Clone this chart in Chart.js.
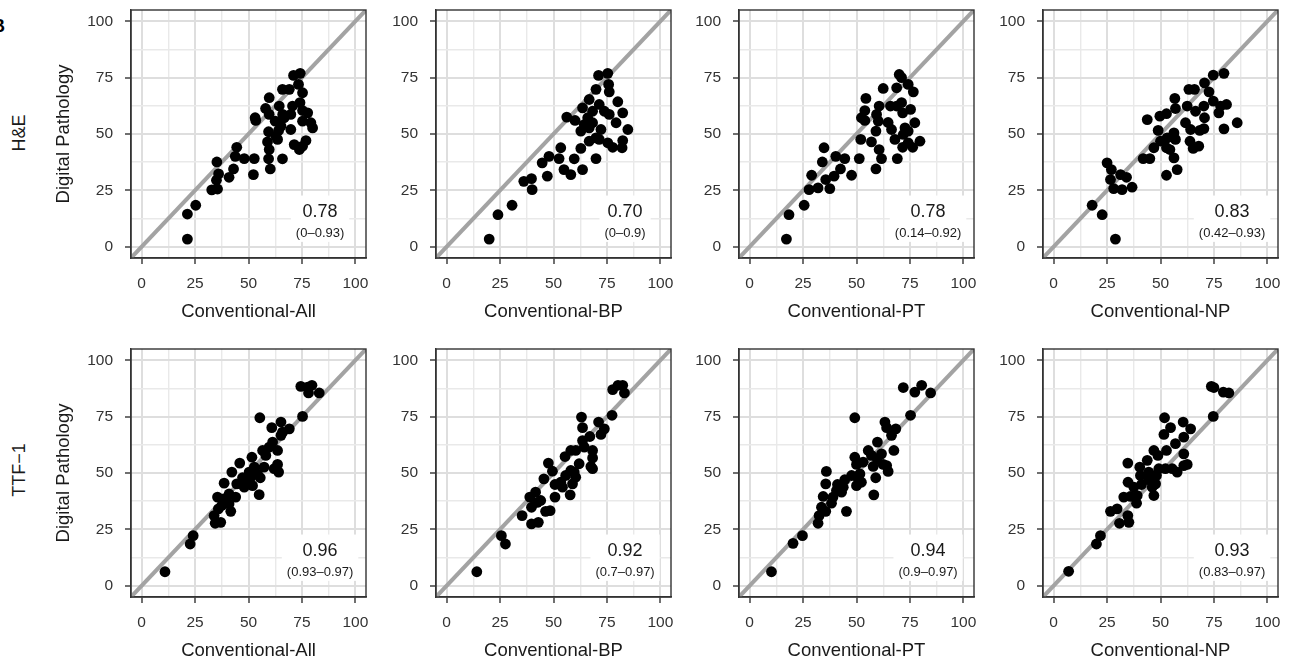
<!DOCTYPE html>
<html>
<head>
<meta charset="utf-8">
<script src="https://cdn.jsdelivr.net/npm/chart.js@4.4.1/dist/chart.umd.min.js"></script>
<style>
body { margin: 0; background: #fff; width: 1293px; height: 661px; overflow: hidden; position: relative; font-family: 'Liberation Sans', Arial, sans-serif; }
.panel { position: absolute; }
.panel canvas { display: block; }
.rowlab { position: absolute; font-size: 18px; color: #1a1a1a; white-space: nowrap; transform: translate(-50%, -50%) rotate(-90deg); }
.tag { position: absolute; left: -8px; top: 17px; font-size: 18px; line-height: 18px; font-weight: bold; color: #000; }
</style>
</head>
<body>
<div class="tag">B</div>
<div class="rowlab" style="left:19px; top:133px;">H&amp;E</div>
<div class="rowlab" style="left:19px; top:470px;">TTF−1</div>
<script>
const FONT = "'Liberation Sans', Arial, sans-serif";
const TEXT_COLOR = '#1a1a1a';
const TICK_COLOR = '#333333';
const GRID_MAJOR = '#dedede';
const GRID_MINOR = '#e9e9e9';
const FRAME_COLOR = '#333333';
const IDENTITY_COLOR = '#a3a3a3';

const METHODS = ['Conventional-All', 'Conventional-BP', 'Conventional-PT', 'Conventional-NP'];
const GRID_VALUES = [0, 12.5, 25, 37.5, 50, 62.5, 75, 87.5, 100];
const AXIS_RANGE = [-5, 105];

// H&E row
const heAllX = [21.4,21.4,25.3,32.8,35.5,35,36,35.2,40.9,43,44.5,43.8,48,52.7,52.3,53.1,53.4,58,59.7,59.7,59.4,58.9,59.7,59.4,60.2,64.4,62.5,64.1,63.6,65.9,65.9,69.1,66.7,69.8,70.6,69.8,71.4,73.8,71.1,74.2,73.4,75.3,74.1,75.3,77.7,75.3,79.2,80,76.9,75.3,65.2,62.8,66];
const heAllY = [3.4,14.5,18.4,25.2,25.6,29.5,32.3,37.6,30.8,34.5,44.1,40.1,39.1,39.1,32,57.2,56,61.3,66.1,58.7,51,46.5,43.1,39,34.5,62.4,55.7,51.6,47.6,39,69.8,69.8,57.2,58.7,62.4,52,45.3,43.1,76,76.9,72,68.3,63.9,60.4,59.4,55.7,55,52.7,47.1,44.6,53.5,49,58.7];

const heBpX = [19.9,24,30.6,36.1,39.7,40,47.1,44.7,47.9,53.4,52.6,54.9,58.1,59.7,63.6,62.8,56.2,60.1,62.8,63.6,66.7,66,66.7,66.7,68.3,69.9,69.9,71.4,72.2,71.4,69.9,71.1,75.4,75.8,76.1,76.1,75.4,77.7,79.3,80.1,82.4,82.4,82.1,84.8,64.4,68.3,73.8];
const heBpY = [3.4,14.2,18.4,29,30.2,25.3,31.3,37.2,40.1,43.9,39.1,34.2,32,39,34.2,43.6,57.5,56,51.3,61.6,65.3,57.2,52.7,46.8,60.1,48.3,39.1,63.1,52,47.6,69.8,76,76.9,72,68.7,58.7,46.1,44.1,55,64.3,59.4,47.1,43.9,52,54.2,55,60.1];

const hePtX = [17.2,18.4,25.5,27.8,32,29,35.6,37.5,39.5,42.5,47.7,34,34.8,40.3,44.5,51.3,52,57,59.1,61.7,60.6,52.3,53.9,54.4,53.9,59.4,60.6,59.1,60.2,62.5,64.8,65.9,66.4,68,69.1,68.8,70,71.1,68.8,71.1,71.6,74.2,76.6,75.3,72.7,74.2,77.3,71.6,74.2,76.3,79.7,71.9];
const hePtY = [3.4,14.2,18.4,25.3,26.1,31.7,29.8,25.8,31.3,34.5,31.7,37.6,43.9,40.1,39.1,39.1,47.6,46.5,34.5,39.1,43.1,57.2,60.4,65.8,56,58.7,62.4,51.3,55.7,70.2,55.1,62.4,52,47.6,39.1,70.5,76.4,75,62.4,63.9,59.4,72,68.7,60.9,52.7,51.3,55,44.1,46.1,44.1,46.8,49.8];

const heNpX = [28.9,18,22.7,25,27,26.6,28.1,31.3,32,34.1,36.7,41.9,45,43.8,46.9,48.9,49.7,52.8,52.8,50,53.1,52.8,54.4,56.3,57.8,56.7,57,56.3,57,62.5,61.7,63.3,65.9,64.1,63.8,65.3,67.9,66.4,70.3,70.6,70.3,68.4,70.6,72.7,74.7,79.7,74.7,77.3,78.1,80.9,79.7,85.9];
const heNpY = [3.4,18.4,14.2,37.2,34.2,29.8,25.8,32,25.3,30.8,26.4,39.1,39.1,56.4,43.9,51.6,57.9,59,31.7,46.8,48.3,43.9,43.1,39.4,34.2,65.8,61.3,50.5,47.6,62.4,55,69.8,69.8,52,46.8,43.6,44.6,60.1,62.4,57.2,52.4,51.6,72.7,68.7,76.1,76.9,64.6,59.4,62.4,63.1,52.3,55];

// TTF-1 row
const ttfAllX = [10.9,22.7,24.1,34.4,37,33.9,35.9,41.7,35.5,38.3,38.6,40.9,44,42.2,45.9,44.5,47.2,49.5,51.6,52.7,51.1,51.9,55,55.5,55.3,57.3,56.6,58.1,59.7,61.3,63.6,63.6,62,64.1,60.9,65.2,65.2,69.1,65.9,75.3,74.5,77.7,79.7,78.1,83.1,48,50.3,54.2,37.5,40.9];
const ttfAllY = [6.2,18.5,22.2,27.7,28.1,31.1,34.1,33,39.3,38.5,45.5,40.7,39.3,50.4,54.4,45.2,47.9,45.9,57,52.6,48.1,44.4,40.4,47.9,74.5,52.6,60,57.8,61.5,63.7,60,53.8,51.9,50.4,70.1,72.6,66.7,69.6,68.1,75.1,88.4,88.1,88.9,85.5,85.5,43.7,50.4,49.6,35.6,36.3];

const ttfBpX = [14.1,25.6,27.5,35.3,39.7,42.9,38.9,39.7,41.6,44,42.4,46.3,48.4,45.5,47.6,49.5,50.7,50.7,53.4,55.7,55.4,58.1,58.1,57.8,58.9,60.4,60.4,62,63.6,63.6,63.1,67,68.3,68.3,67.5,68.3,71.1,72.2,73.8,77.4,77.7,80.2,82.4,83.2,54.2,59.7,64.4];
const ttfBpY = [6.2,22.2,18.5,31.1,27.4,28.1,39.3,34.8,41.5,37.8,37,33,33.3,47.4,54.4,50.8,44.9,39.3,45.9,48.9,57.3,60,51.1,40.3,45.2,60,48.1,54.1,64.4,70.1,74.8,66.2,60,56.7,52.9,51.9,72.6,67.1,69.6,75.6,87,88.9,88.9,85.5,43.7,50.4,61.5];

const ttfPtX = [10.2,20.3,24.7,32,32.5,33.6,35.6,34.4,35.6,35.9,38.3,39,40.6,41.1,43,45.3,44.5,47.7,49.2,49.2,50,50,51.6,52.3,53.1,55.5,57,57.8,59,58.1,59.8,61.7,62.5,64.1,64.8,63.3,64.1,66.4,68.4,67.5,71.9,75.3,77.3,80.5,84.7,43.8,50.8,59.7];
const ttfPtY = [6.2,18.8,22.2,27.7,31.1,34.8,33,39.6,45.2,50.7,36.6,39.3,42.2,44.9,41.5,33,47,48.9,74.5,57,53.8,44.4,49.6,45.9,54.8,60,57.8,52.9,47.9,40.3,63.7,58.5,53.8,53.3,50.7,72.6,70.1,66.7,69.6,60,87.9,75.6,85.9,88.9,85.5,43.7,47.4,56.3];

const ttfNpX = [7,20,21.9,26.6,29.7,30.8,35.2,34.7,32.8,34.8,35.9,38.8,39.1,34.7,40.3,40.6,41.1,43.8,44.5,46.1,46.9,46.9,48.8,48.1,49.2,52.3,52.8,51.9,51.6,54.7,57,55.5,57.8,60.9,60.9,62.5,60.9,60.6,64.1,74.7,73.8,75,79.4,82,44.5,47.7,37.5];
const ttfNpY = [6.4,18.5,22.2,33,34.1,27.7,28.1,31.1,39.3,45.9,39.6,36.6,40,54.4,52.6,48.9,44.9,55.6,47,43.7,40,60,57.8,48.9,51.9,51.9,60,74.5,67.1,70.1,63,51.9,50.4,58.5,53.3,53.8,65.9,72.6,69.6,75.1,88.4,87.9,85.9,85.5,50.4,45.2,43.7];

const ICC_VALUES = ['0.78', '0.70', '0.78', '0.83', '0.96', '0.92', '0.94', '0.93'];
const ICC_RANGES = ['(0–0.93)', '(0–0.9)', '(0.14–0.92)', '(0.42–0.93)', '(0.93–0.97)', '(0.7–0.97)', '(0.9–0.97)', '(0.83–0.97)'];
const LABEL_POS = { x: 83.5, yMain: 15.6, ySub: 5.7 };

const SERIES_X = [heAllX, heBpX, hePtX, heNpX, ttfAllX, ttfBpX, ttfPtX, ttfNpX];
const SERIES_Y = [heAllY, heBpY, hePtY, heNpY, ttfAllY, ttfBpY, ttfPtY, ttfNpY];

// layout
const PLOT_LEFT = [131, 436, 739, 1043];
const PLOT_TOP = [10, 349];
const Y_AXIS_W = 80;
const X_AXIS_H = 65;
const PAD_TOP = 3;
const PAD_RIGHT = 4;
const CANVAS_W = Y_AXIS_W + 235 + PAD_RIGHT;
const CANVAS_H = PAD_TOP + 248 + X_AXIS_H;

Chart.defaults.font.family = FONT;

const isMajor = (v) => v % 25 === 0;

const framePlugin = {
    id: 'frame',
    afterDatasetsDraw(chart) {
        const { ctx, chartArea: a } = chart;
        ctx.save();
        ctx.strokeStyle = FRAME_COLOR;
        ctx.lineWidth = 1.4;
        ctx.strokeRect(a.left, a.top, a.right - a.left, a.bottom - a.top);
        ctx.restore();
    }
};

const iccPlugin = {
    id: 'icc',
    beforeDatasetsDraw(chart, args, opts) {
        const { ctx, scales: { x, y } } = chart;
        const cx = x.getPixelForValue(LABEL_POS.x);
        const y1 = y.getPixelForValue(LABEL_POS.yMain);
        const y2 = y.getPixelForValue(LABEL_POS.ySub);
        ctx.save();
        ctx.font = '18px ' + FONT;
        const w1 = ctx.measureText(opts.main).width;
        ctx.font = '13px ' + FONT;
        const w2 = ctx.measureText(opts.sub).width;
        const w = Math.max(w1, w2) + 10;
        ctx.fillStyle = '#ffffff';
        ctx.fillRect(cx - w / 2, y1 - 16, w, (y2 - y1) + 24);
        ctx.textAlign = 'center';
        ctx.textBaseline = 'middle';
        ctx.fillStyle = TEXT_COLOR;
        ctx.font = '18px ' + FONT;
        ctx.fillText(opts.main, cx, y1);
        ctx.font = '13px ' + FONT;
        ctx.fillText(opts.sub, cx, y2);
        ctx.restore();
    }
};

function axisOptions(isX, titleText) {
    return {
        type: 'linear',
        min: AXIS_RANGE[0],
        max: AXIS_RANGE[1],
        afterBuildTicks: (scale) => { scale.ticks = GRID_VALUES.map(v => ({ value: v })); },
        afterFit: (scale) => {
            if (isX) scale.height = X_AXIS_H; else scale.width = Y_AXIS_W;
            scale.paddingTop = 0;
            scale.paddingBottom = 0;
            scale.paddingLeft = 0;
            scale.paddingRight = 0;
        },
        grid: {
            color: (c) => (c.tick && isMajor(c.tick.value)) ? GRID_MAJOR : GRID_MINOR,
            lineWidth: (c) => (c.tick && isMajor(c.tick.value)) ? 2 : 1.4,
            tickColor: (c) => (c.tick && isMajor(c.tick.value)) ? TICK_COLOR : 'rgba(0,0,0,0)',
            tickLength: 6,
            tickWidth: 1.4,
            drawTicks: true
        },
        border: { display: true, color: FRAME_COLOR, width: 1.4 },
        ticks: {
            autoSkip: false,
            maxRotation: 0,
            padding: isX ? 10 : 12,
            color: TICK_COLOR,
            font: { size: 15.5 },
            callback: (v) => isMajor(v) ? String(v) : ''
        },
        title: {
            display: !!titleText,
            text: titleText || '',
            color: TEXT_COLOR,
            font: { size: 18.5 },
            padding: isX ? { top: 0, bottom: 0 } : { top: 2, bottom: 0 }
        }
    };
}

for (let i = 0; i < 8; i++) {
    const row = Math.floor(i / 4);
    const col = i % 4;
    const wrap = document.createElement('div');
    wrap.className = 'panel';
    wrap.style.left = (PLOT_LEFT[col] - Y_AXIS_W) + 'px';
    wrap.style.top = (PLOT_TOP[row] - PAD_TOP) + 'px';
    const canvas = document.createElement('canvas');
    canvas.width = CANVAS_W;
    canvas.height = CANVAS_H;
    wrap.appendChild(canvas);
    document.body.appendChild(wrap);

    const points = SERIES_X[i].map((xv, k) => ({ x: xv, y: SERIES_Y[i][k] }));
    const identity = AXIS_RANGE.map(v => ({ x: v, y: v }));

    new Chart(canvas, {
        type: 'scatter',
        data: {
            datasets: [
                {
                    type: 'line',
                    data: identity,
                    borderColor: IDENTITY_COLOR,
                    borderWidth: 4,
                    pointRadius: 0,
                    order: 2
                },
                {
                    data: points,
                    backgroundColor: '#000000',
                    borderWidth: 0,
                    pointRadius: 5.4,
                    order: 1
                }
            ]
        },
        options: {
            responsive: false,
            animation: false,
            devicePixelRatio: 1,
            events: [],
            layout: { autoPadding: false, padding: { top: PAD_TOP, right: PAD_RIGHT, left: 0, bottom: 0 } },
            scales: {
                x: axisOptions(true, METHODS[col]),
                y: axisOptions(false, col === 0 ? 'Digital Pathology' : '')
            },
            plugins: {
                legend: { display: false },
                tooltip: { enabled: false },
                icc: { main: ICC_VALUES[i], sub: ICC_RANGES[i] }
            }
        },
        plugins: [framePlugin, iccPlugin]
    });
}
</script>
</body>
</html>
